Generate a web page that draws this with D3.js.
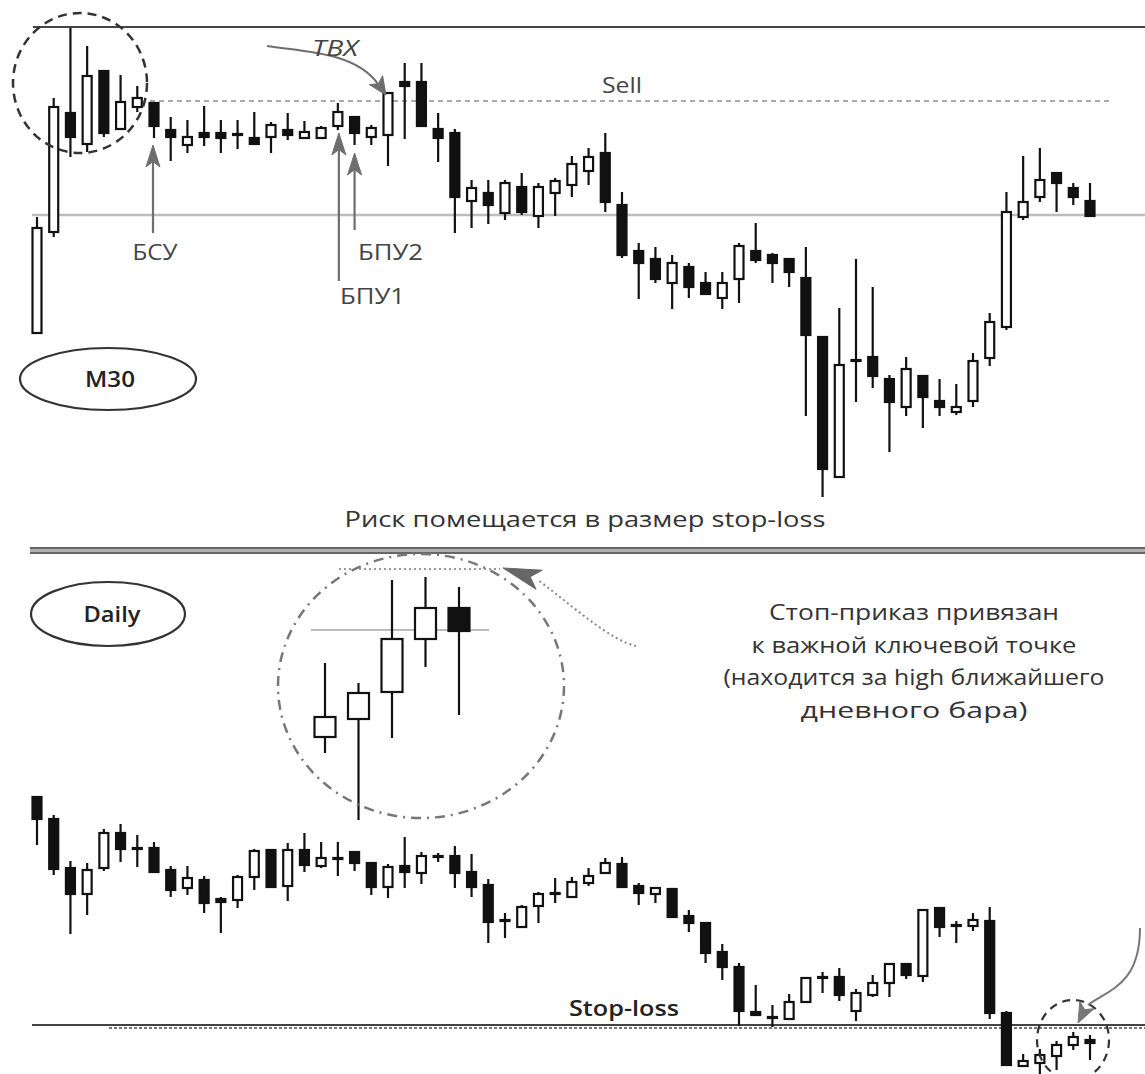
<!DOCTYPE html>
<html>
<head>
<meta charset="utf-8">
<script src="https://cdn.jsdelivr.net/npm/d3@7"></script>
<style>
  html, body { margin: 0; padding: 0; background: #fff; }
  svg { display: block; }
  text { font-family: "Open Sans", "Noto Sans", sans-serif; }
</style>
</head>
<body>
<svg id="chart" width="1145" height="1074"></svg>
<script>
// ---- M30 candles (price in points) ----
const m30Open  = [167,268,387,356,429,371,393,397,370,355,367,367,366,362,363,370,362,362,374,383,363,365,418,418,371,367,299,307,287,313,284,307,315,329,347,295,249,241,217,233,217,202,221,249,245,241,222,163,23,140,143,121,93,124,99,88,99,142,173,283,303,327,312,299];
const m30High  = [283,402,472,454,429,425,414,398,383,380,394,380,380,388,378,387,379,374,397,383,375,407,437,437,387,371,320,320,320,327,317,322,344,352,367,308,257,253,245,237,228,228,257,277,247,242,253,163,192,241,213,125,143,125,121,116,147,187,308,344,352,327,317,317];
const m30Low   = [167,263,343,348,363,371,388,362,339,347,354,347,351,356,347,360,362,362,370,355,355,334,361,374,338,267,272,276,280,285,272,284,303,315,288,242,201,217,191,202,206,191,197,237,217,213,84,3,22,98,112,48,84,72,84,85,93,134,170,280,298,288,295,284];
const m30Close = [272,393,363,424,367,398,402,374,363,363,363,362,365,356,375,365,368,372,388,367,372,407,414,374,362,303,312,295,317,288,313,319,336,343,298,245,237,221,237,213,206,217,254,240,237,228,165,31,135,139,124,98,131,103,93,93,139,178,288,298,320,317,303,284];

// ---- Daily candles ----
const dayOpen  = [283,261,212,186,212,247,232,232,210,192,200,181,180,203,230,194,230,214,222,228,217,193,214,207,224,224,208,195,160,153,174,187,183,197,207,216,194,186,191,164,157,128,113,68,63,61,78,103,103,69,85,97,116,104,172,155,154,159,67,14,17,24,35,40];
const dayHigh  = [283,265,219,217,251,256,245,238,214,214,204,183,205,231,230,237,247,238,238,228,217,216,243,228,227,234,226,201,167,175,188,202,203,212,222,223,197,193,191,170,157,136,117,95,75,86,103,108,112,91,105,117,117,171,172,159,167,173,69,26,31,39,48,45];
const dayLow   = [235,205,146,165,209,218,213,208,183,185,167,147,172,190,192,179,208,212,204,209,185,182,192,196,218,192,183,137,142,153,157,177,182,194,207,193,175,177,163,148,117,100,54,65,53,61,78,87,79,59,83,83,101,98,143,137,149,61,14,14,6,10,30,20];
const dayClose = [261,211,186,210,247,231,231,208,190,202,177,178,203,229,193,230,215,222,222,217,193,213,208,224,224,207,193,158,160,173,186,187,198,204,217,193,187,192,163,157,127,113,69,65,63,78,102,103,85,87,97,116,105,170,153,155,160,67,15,19,25,35,43,37];

// ---- enlarged daily bars in the circle ----
const zoomOpen  = [93,111,138,191,222];
const zoomHigh  = [167,147,250,253,243];
const zoomLow   = [77,10,92,163,115];
const zoomClose = [113,137,191,222,199];

// ---- key levels ----
const sellLevel = 399;
const m30Pivot = 285;
const stopLevel = 55;
const zoomPivot = 200;
const zoomHighLevel = 261;

const svg = d3.select("#chart");
svg.append("rect").attr("width", 1145).attr("height", 1074).attr("fill", "#fff");

const xTop = d3.scaleLinear().domain([0, 63]).range([37, 1090]);
const yTop = d3.scaleLinear().domain([0, 480]).range([500, 20]);
const xDay = d3.scaleLinear().domain([0, 63]).range([37, 1090]);
const yDay = d3.scaleLinear().domain([0, 500]).range([1080, 580]);
const xZoom = d3.scaleLinear().domain([0, 4]).range([325, 459]);
const yZoom = d3.scaleLinear().domain([0, 300]).range([830, 530]);

// text stretched to a given width (wide grotesque look)
function label(g, x, y, txt, width, o = {}) {
  return g.append("text").attr("x", x).attr("y", y)
    .attr("text-anchor", o.anchor || "middle")
    .attr("font-size", o.size || 22)
    .attr("font-weight", o.weight || 400)
    .attr("font-style", o.style || "normal")
    .attr("fill", o.fill || "#3a3a3a")
    .attr("textLength", width).attr("lengthAdjust", "spacingAndGlyphs")
    .text(txt);
}

function arrowHead(g, tx, ty, dx, dy, len, half, color) {
  const n = Math.hypot(dx, dy); dx /= n; dy /= n;
  const bx = tx - dx * len, by = ty - dy * len;
  const px = -dy * half, py = dx * half;
  const nx = tx - dx * len * 0.75, ny = ty - dy * len * 0.75;
  g.append("path")
    .attr("d", `M${tx},${ty} L${bx + px},${by + py} L${nx},${ny} L${bx - px},${by - py} Z`)
    .attr("fill", color).attr("stroke", color).attr("stroke-width", 1);
}

function drawCandles(g, O, H, L, C, x, y, bodyW) {
  const data = O.map((o, i) => ({ i, o, h: H[i], l: L[i], c: C[i] }));
  const grp = g.selectAll("g.candle").data(data).join("g").attr("class", "candle");
  grp.append("line")
    .attr("x1", d => x(d.i)).attr("x2", d => x(d.i))
    .attr("y1", d => y(d.h)).attr("y2", d => y(d.l))
    .attr("stroke", "#111").attr("stroke-width", 2.2);
  grp.append("rect")
    .attr("x", d => x(d.i) - bodyW / 2)
    .attr("width", bodyW)
    .attr("y", d => y(Math.max(d.o, d.c)))
    .attr("height", d => Math.max(Math.abs(y(d.o) - y(d.c)), 1))
    .attr("fill", d => d.c > d.o ? "#fff" : "#111")
    .attr("stroke", "#111").attr("stroke-width", 2.2);
}

// ================= M30 panel =================
const topG = svg.append("g");
topG.append("line").attr("x1", 33).attr("x2", 1145).attr("y1", 27).attr("y2", 27)
  .attr("stroke", "#444").attr("stroke-width", 2.2);
topG.append("line").attr("x1", 32).attr("x2", 1145)
  .attr("y1", yTop(m30Pivot)).attr("y2", yTop(m30Pivot))
  .attr("stroke", "#bdbdbd").attr("stroke-width", 2.5);
topG.append("line").attr("x1", 150).attr("x2", 1110)
  .attr("y1", yTop(sellLevel)).attr("y2", yTop(sellLevel))
  .attr("stroke", "#aaa").attr("stroke-width", 2).attr("stroke-dasharray", "5,4");
label(topG, 622, 93, "Sell", 40, { fill: "#444" });

drawCandles(topG, m30Open, m30High, m30Low, m30Close, xTop, yTop, 9);

// dashed circle round the opening bars
topG.append("ellipse").attr("cx", 80).attr("cy", 83).attr("rx", 67).attr("ry", 70)
  .attr("fill", "none").attr("stroke", "#333").attr("stroke-width", 2.5)
  .attr("stroke-dasharray", "9,6");

// entry arrow
const grey = "#6e6e6e";
topG.append("path").attr("d", "M267,46 C305,52 355,52 378,84")
  .attr("fill", "none").attr("stroke", grey).attr("stroke-width", 2);
arrowHead(topG, 386, 95, 0.56, 0.83, 18, 8, grey);
label(topG, 335, 56, "ТВХ", 46, { style: "italic", fill: "#444" });

// level-bar arrows
function upArrow(x, yTip, yEnd) {
  topG.append("line").attr("x1", x).attr("x2", x).attr("y1", yEnd).attr("y2", yTip + 12)
    .attr("stroke", grey).attr("stroke-width", 2.2);
  arrowHead(topG, x, yTip, 0, -1, 22, 7, grey);
}
upArrow(xTop(7) - 1, 145, 233);
upArrow(xTop(18) + 1, 133, 281);
upArrow(xTop(19), 153, 230);
label(topG, 155, 260, "БСУ", 45, { fill: "#444" });
label(topG, 358, 260, "БПУ2", 65, { anchor: "start", fill: "#444" });
label(topG, 340, 304, "БПУ1", 65, { anchor: "start", fill: "#444" });

// timeframe badge
topG.append("ellipse").attr("cx", 108).attr("cy", 379).attr("rx", 88).attr("ry", 31)
  .attr("fill", "#fff").attr("stroke", "#333").attr("stroke-width", 2.2);
label(topG, 110, 387, "M30", 50, { size: 21, weight: 600, fill: "#222" });

label(topG, 585, 527, "Риск помещается в размер stop-loss", 481, { fill: "#333" });

// panel separator
svg.append("rect").attr("x", 30).attr("y", 547).attr("width", 1115).attr("height", 7).attr("fill", "#b0b0b0");
svg.append("line").attr("x1", 30).attr("x2", 1145).attr("y1", 548).attr("y2", 548).attr("stroke", "#666").attr("stroke-width", 2);
svg.append("line").attr("x1", 30).attr("x2", 1145).attr("y1", 553).attr("y2", 553).attr("stroke", "#666").attr("stroke-width", 2);

// ================= Daily panel =================
const botG = svg.append("g");
botG.append("ellipse").attr("cx", 108).attr("cy", 614).attr("rx", 77).attr("ry", 32)
  .attr("fill", "#fff").attr("stroke", "#333").attr("stroke-width", 2.2);
label(botG, 112, 622, "Daily", 57, { size: 21, weight: 600, fill: "#222" });

// stop-loss level
botG.append("line").attr("x1", 32).attr("x2", 1145)
  .attr("y1", yDay(stopLevel)).attr("y2", yDay(stopLevel))
  .attr("stroke", "#444").attr("stroke-width", 2);
botG.append("line").attr("x1", 109).attr("x2", 1145)
  .attr("y1", yDay(stopLevel) + 3).attr("y2", yDay(stopLevel) + 3)
  .attr("stroke", "#777").attr("stroke-width", 2).attr("stroke-dasharray", "3,2");
label(botG, 624, 1016, "Stop-loss", 110, { size: 21, weight: 600, fill: "#222" });

drawCandles(botG, dayOpen, dayHigh, dayLow, dayClose, xDay, yDay, 9);

// enlarged view of the key daily bars
const zoomG = svg.append("g");
zoomG.append("line").attr("x1", 311).attr("x2", 489)
  .attr("y1", yZoom(zoomPivot)).attr("y2", yZoom(zoomPivot))
  .attr("stroke", "#bbb").attr("stroke-width", 2);
zoomG.append("line").attr("x1", 339).attr("x2", 500)
  .attr("y1", yZoom(zoomHighLevel)).attr("y2", yZoom(zoomHighLevel))
  .attr("stroke", "#999").attr("stroke-width", 2).attr("stroke-dasharray", "2,3");
drawCandles(zoomG, zoomOpen, zoomHigh, zoomLow, zoomClose, xZoom, yZoom, 21);
zoomG.append("ellipse").attr("cx", 421).attr("cy", 686).attr("rx", 143).attr("ry", 132)
  .attr("fill", "none").attr("stroke", "#777").attr("stroke-width", 2.5)
  .attr("stroke-dasharray", "10,6,2,6");

// pointer from the note to the stop level
botG.append("path").attr("d", "M636,646 C610,640 575,608 538,580")
  .attr("fill", "none").attr("stroke", "#888").attr("stroke-width", 2).attr("stroke-dasharray", "2,3");
arrowHead(botG, 503, 568, -37, -12, 38, 10, "#666");

const note = ["Стоп-приказ привязан", "к важной ключевой точке", "(находится за high ближайшего", "дневного бара)"];
const noteWidths = [290, 325, 381, 227];
note.forEach((t, i) => label(botG, 914, 620 + i * 32.5, t, noteWidths[i], { fill: "#333" }));

// last bars circled, with pointer
botG.append("ellipse").attr("cx", 1073).attr("cy", 1040).attr("rx", 36).attr("ry", 40)
  .attr("fill", "none").attr("stroke", "#333").attr("stroke-width", 2.2).attr("stroke-dasharray", "8,6");
botG.append("path").attr("d", "M1140,928 C1140,985 1108,990 1088,1005")
  .attr("fill", "none").attr("stroke", "#777").attr("stroke-width", 2);
arrowHead(botG, 1078, 1023, -0.5, 1, 20, 8, "#777");
</script>
</body>
</html>
